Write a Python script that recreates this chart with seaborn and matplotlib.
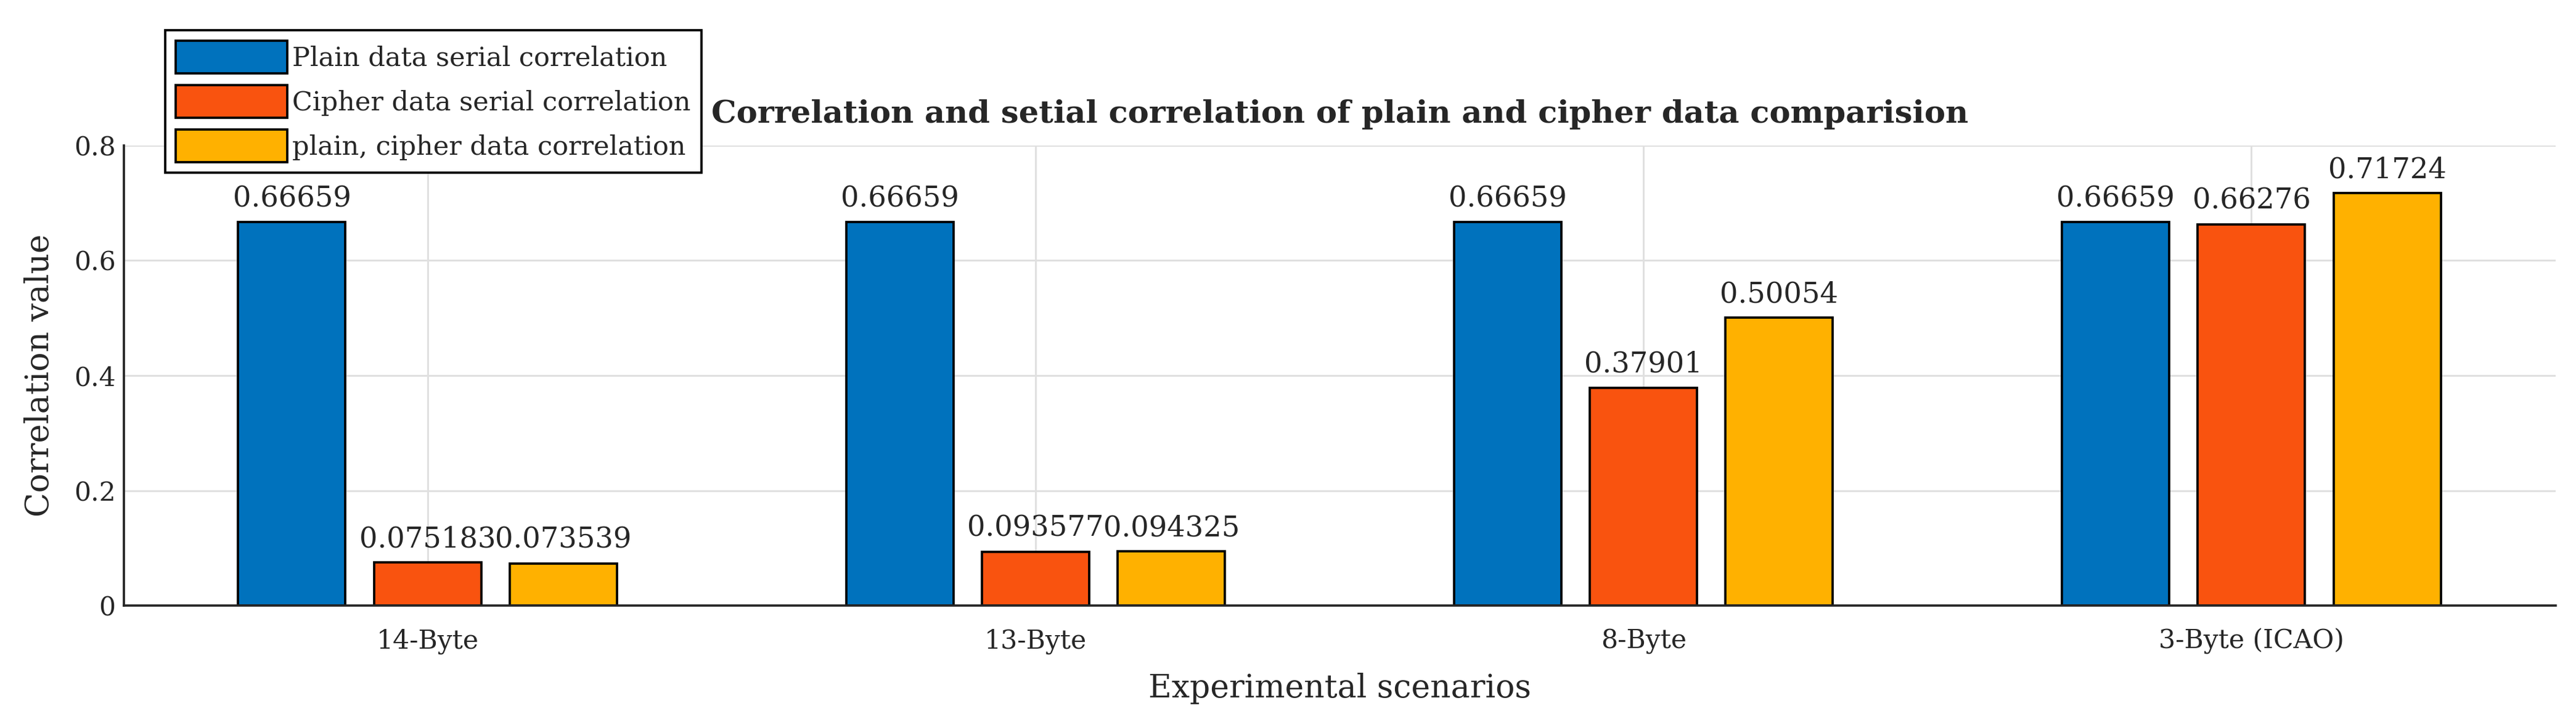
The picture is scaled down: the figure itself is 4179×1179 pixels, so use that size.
import numpy as np
import pandas as pd
import matplotlib
matplotlib.use("Agg")
import matplotlib.pyplot as plt
import seaborn as sns

scenarios = ["14-Byte", "13-Byte", "8-Byte", "3-Byte (ICAO)"]
series = ["Plain data serial correlation",
          "Cipher data serial correlation",
          "plain, cipher data correlation"]
plain_serial = [0.66659, 0.66659, 0.66659, 0.66659]
cipher_serial = [0.075183, 0.093577, 0.37901, 0.66276]
plain_cipher = [0.073539, 0.094325, 0.50054, 0.71724]
colors = ["#0072BD", "#F9530F", "#FFB100"]

df = pd.DataFrame({
    "scenario": scenarios * 3,
    "series": [series[0]] * 4 + [series[1]] * 4 + [series[2]] * 4,
    "value": plain_serial + cipher_serial + plain_cipher,
})

sns.set_style("whitegrid")
plt.rcParams["font.family"] = ["DejaVu Serif"]

fig = plt.figure(figsize=(4179 / 267, 1179 / 267), dpi=267)
ax = fig.add_axes([0.048, 0.167, 0.944, 0.633])

sns.barplot(data=df, x="scenario", y="value", hue="series", order=scenarios,
            hue_order=series, palette=colors, width=0.67, gap=0.21,
            edgecolor="black", linewidth=1.0, saturation=1, ax=ax, errorbar=None)

# value labels on top of bars
for cont in ax.containers:
    vals = cont.datavalues
    ax.bar_label(cont, labels=[f"{v:.5g}" for v in vals], padding=4, fontsize=12.5)

ax.set_ylim(0, 0.8)
ax.set_xlim(-0.5, 3.5)
ax.set_yticks([0, 0.2, 0.4, 0.6, 0.8])
ax.set_yticklabels(["0", "0.2", "0.4", "0.6", "0.8"])
ax.tick_params(axis="y", direction="in", length=6, width=1, labelsize=11.5, colors="#262626")
ax.tick_params(axis="x", direction="in", length=0, labelsize=11.5, colors="#262626", pad=10)
ax.grid(True, axis="both", color="#E0E0E0", linewidth=0.8)
ax.set_axisbelow(True)
for s in ["top", "right"]:
    ax.spines[s].set_visible(False)
for s in ["left", "bottom"]:
    ax.spines[s].set_color("#262626")
    ax.spines[s].set_linewidth(1)

ax.set_xlabel("Experimental scenarios", fontsize=14, color="#262626", labelpad=8)
ax.set_ylabel("Correlation value", fontsize=14, color="#262626", labelpad=8)
ax.set_title("Correlation and setial correlation of plain and cipher data comparision",
             fontsize=13.8, fontweight="bold", pad=10)

handles, labels = ax.get_legend_handles_labels()
leg = ax.legend(handles, labels, loc="upper left", bbox_to_anchor=(0.017, 1.25),
                fontsize=11.6, frameon=True, fancybox=False, framealpha=1,
                edgecolor="black", handlelength=4.2, handleheight=1.5,
                handletextpad=0.2, borderpad=0.4, labelspacing=0.45, borderaxespad=0)
leg.get_frame().set_linewidth(1)
leg.set_title(None)

fig.savefig("out.png", dpi=267)
